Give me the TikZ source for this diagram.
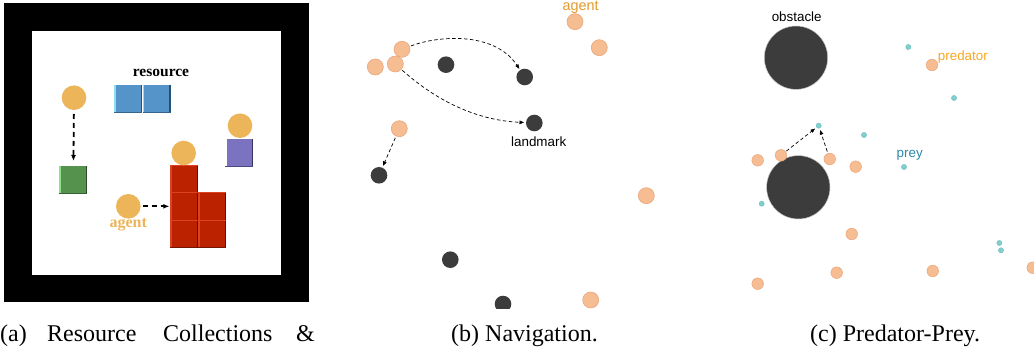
\documentclass[tikz,border=0pt]{standalone}
\usepackage{fontspec}
\setmainfont{Liberation Serif}
\newfontfamily\sansf{Liberation Sans}
\usetikzlibrary{arrows.meta}
\definecolor{agentA}{HTML}{EDB55A}
\definecolor{peach}{HTML}{F6BC92}
\definecolor{peachE}{HTML}{EBA67C}
\definecolor{lmk}{HTML}{3C3C3C}
\definecolor{preyC}{HTML}{80CECE}
\definecolor{preyE}{HTML}{5FB8B8}
\definecolor{blueB}{HTML}{5494C9}
\definecolor{blueL}{HTML}{8AE0F0}
\definecolor{blueD}{HTML}{2A4F70}
\definecolor{redB}{HTML}{BB2200}
\definecolor{redL}{HTML}{DC4222}
\definecolor{redD}{HTML}{5A1000}
\definecolor{greenB}{HTML}{54924E}
\definecolor{greenL}{HTML}{8FE08A}
\definecolor{greenD}{HTML}{2A4A28}
\definecolor{purpB}{HTML}{7B73BF}
\definecolor{purpD}{HTML}{3A3560}
\definecolor{agentTxt}{HTML}{E39A2A}
\definecolor{predTxt}{HTML}{F7A823}
\definecolor{preyTxt}{HTML}{2C88A8}
\tikzset{
  agentdot/.style={circle,fill=agentA,minimum size=24.6pt,inner sep=0pt,outer sep=0pt},
  peachdot/.style={circle,fill=peach,draw=peachE,line width=0.6pt,minimum size=16pt,inner sep=0pt,outer sep=0pt},
  smallpeach/.style={circle,fill=peach,draw=peachE,line width=0.5pt,minimum size=11.6pt,inner sep=0pt,outer sep=0pt},
  lmkdot/.style={circle,fill=lmk,minimum size=16.6pt,inner sep=0pt,outer sep=0pt},
  obst/.style={circle,fill=lmk,draw=gray!40,line width=0.5pt,minimum size=63.4pt,inner sep=0pt,outer sep=0pt},
  preydot/.style={circle,fill=preyC,draw=preyE,line width=0.3pt,minimum size=5.2pt,inner sep=0pt,outer sep=0pt},
  thickarrow/.style={line width=1.8pt,dash pattern=on 5pt off 4pt,-{Latex[length=6pt,width=5pt]}},
  thinarrow/.style={line width=0.7pt,dash pattern=on 3.5pt off 2.5pt,-{Triangle[length=4.5pt,width=3.5pt]}},
  captxt/.style={font=\fontsize{24}{24}\selectfont,anchor=base west,inner sep=0pt},
  sanslbl/.style={font=\sansf\fontsize{13.4}{13.4}\selectfont,inner sep=0pt},
}
% block: #1 name, #2 x, #3 y (top-left), #4 base, #5 light, #6 dark
\newcommand{\blockat}[6]{%
  \node[draw=none,fill=#4,minimum width=28pt,minimum height=27.4pt,inner sep=0pt,outer sep=0pt,anchor=north west] (#1) at (#2,#3) {};
  \draw[#5,line width=1.4pt] ([xshift=0.7pt]#1.north west) -- ([xshift=0.7pt]#1.south west);
  \draw[#6,line width=1.4pt] ([xshift=-0.7pt]#1.north east) -- ([xshift=-0.7pt]#1.south east);
  \draw[#6!70!#4,line width=0.8pt] ([yshift=0.4pt]#1.south west) -- ([yshift=0.4pt]#1.south east);
}
\begin{document}
\begin{tikzpicture}[x=1pt,y=-1pt]
\useasboundingbox (0,0) rectangle (1034,350);
\fill[white] (0,0) rectangle (1034,350);
% ---------------- panel (a)
\fill[black] (4,3.5) rectangle (309,302);
\fill[white] (32,31) rectangle (281,275);
\node[font=\bfseries\fontsize{15.5}{15.5}\selectfont,inner sep=0pt] (reslbl) at (161,73) {resource};
\blockat{b1}{114.3}{85}{blueB}{blueL}{blueD}
\blockat{b2}{142.5}{85}{blueB}{blueL}{blueD}
\blockat{g1}{59.3}{166}{greenB}{greenL}{greenD}
\blockat{p1}{225.3}{139}{purpB}{white}{purpD}
\blockat{r1}{170.3}{166}{redB}{redL}{redD}
\blockat{r2}{170.3}{193.3}{redB}{redL}{redD}
\blockat{r3}{170.3}{220.6}{redB}{redL}{redD}
\blockat{r4}{198.3}{193.3}{redB}{redL}{redD}
\blockat{r5}{198.3}{220.6}{redB}{redL}{redD}
\foreach \n in {r1,r2,r3,r4,r5}{
  \draw[redL,line width=1pt] ([yshift=0.5pt]\n.north west) -- ([yshift=0.5pt]\n.north east);
}
\node[agentdot] (ag1) at (74,97.7) {};
\node[agentdot] (ag2) at (183.7,153) {};
\node[agentdot] (ag3) at (240,125.7) {};
\node[agentdot] (ag4) at (128.3,206.3) {};
\node[font=\bfseries\fontsize{16}{16}\selectfont,text=agentA,inner sep=0pt] (aglbl) at (128.3,224.5) {agent};
\draw[thickarrow,shorten <=4pt,shorten >=5pt] (ag1) -- (g1);
\draw[thickarrow,shorten <=2pt,shorten >=1pt] (ag4) -- (ag4 -| r2.west);
% ---------------- panel (b)
\begin{scope}
\clip (330,-10) rectangle (680,308.5);
\node[sanslbl,text=agentTxt,font=\sansf\fontsize{14.4}{14.4}\selectfont] (agtxt) at (580.7,7.5) {agent};
\node[peachdot] (n1) at (575,21.7) {};
\node[peachdot] (n2) at (599.3,47.7) {};
\node[peachdot] (n3) at (402,49.3) {};
\node[peachdot] (n4) at (375.3,67) {};
\node[peachdot] (n5) at (395.3,64) {};
\node[peachdot] (n6) at (399.3,128.7) {};
\node[peachdot] (n7) at (646.3,195.7) {};
\node[peachdot] (n8) at (590.7,300) {};
\node[lmkdot] (l1) at (446,64.7) {};
\node[lmkdot] (l2) at (524.7,77) {};
\node[lmkdot] (l3) at (534.3,123) {};
\node[lmkdot] (l4) at (379,175.3) {};
\node[lmkdot] (l5) at (450.3,259.7) {};
\node[lmkdot] (l6) at (503,304) {};
\node[sanslbl] (lmtxt) at (538.7,142) {landmark};
\draw[thinarrow,shorten <=1.5pt,shorten >=1.5pt] (n3) .. controls (440,35) and (495,32) .. (l2);
\draw[thinarrow,shorten <=1.5pt,shorten >=2pt] (n5) .. controls (430,95) and (470,120) .. (l3);
\draw[thinarrow,shorten <=2pt,shorten >=2pt] (n6) -- (l4);
\end{scope}
% ---------------- panel (c)
\node[sanslbl] (obtxt) at (796.7,16.7) {obstacle};
\node[obst] (o1) at (796,57.7) {};
\node[obst] (o2) at (798.3,187.3) {};
\node[sanslbl,text=predTxt,anchor=west] (prtxt) at (937.7,56.7) {predator};
\node[sanslbl,text=preyTxt] (pytxt) at (909.7,155.7) {prey};
\node[smallpeach] (q1) at (932,65) {};
\node[smallpeach] (q2) at (757.7,160.3) {};
\node[smallpeach] (q3) at (781,155.3) {};
\node[smallpeach] (q4) at (829.7,159) {};
\node[smallpeach] (q5) at (855.7,166.7) {};
\node[smallpeach] (q6) at (851.7,234) {};
\node[smallpeach] (q7) at (836.7,272.7) {};
\node[smallpeach] (q8) at (757.7,283.7) {};
\node[smallpeach] (q9) at (932.7,271) {};
\node[smallpeach] (q10) at (1032.7,267.7) {};
\node[preydot] (y1) at (908.3,47) {};
\node[preydot] (y2) at (954,98) {};
\node[preydot] (y3) at (818.7,125.7) {};
\node[preydot] (y4) at (864,135) {};
\node[preydot] (y5) at (904,167) {};
\node[preydot] (y6) at (761.7,203.7) {};
\node[preydot] (y7) at (999.3,243) {};
\node[preydot] (y8) at (1001,250.3) {};
\draw[thinarrow,shorten <=1pt,shorten >=2pt] (q3) -- (y3);
\draw[thinarrow,shorten <=2pt,shorten >=2pt] (q4) -- (y3);
% ---------------- captions
\node[captxt] (capa1) at (0,341) {(a)};
\node[captxt] (capa2) at (47,341) {Resource};
\node[captxt] (capa3) at (163,341) {Collections};
\node[captxt] (capa4) at (296,341) {\&};
\node[captxt] (capb) at (451,341) {(b) Navigation.};
\node[captxt] (capc) at (810,341) {(c) Predator-Prey.};
\end{tikzpicture}
\end{document}
